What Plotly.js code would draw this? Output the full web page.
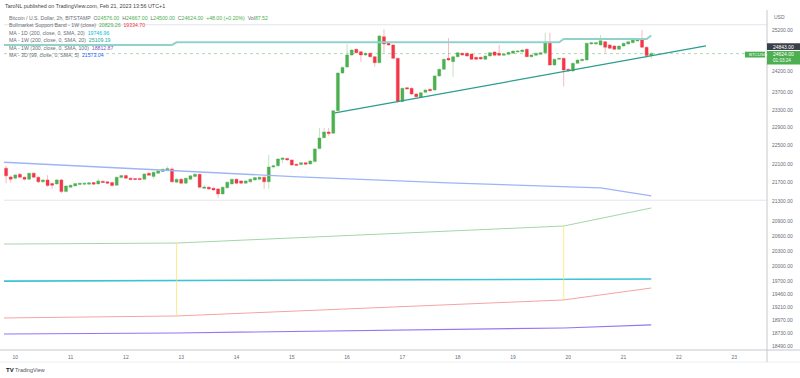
<!DOCTYPE html>
<html><head><meta charset="utf-8">
<script src="https://cdn.plot.ly/plotly-3.0.1.min.js"></script>
<style>html,body{margin:0;padding:0;background:#fff}#chart{width:800px;height:378px}</style>
</head><body><div id="chart"></div>
<script>
// ---- 2h candles, BTC/USD Bitstamp, first candle 2023-02-09 20:00 ----
const firstCandle = Date.UTC(2023, 1, 9, 20, 0);
const candleHours = 2;
const open = [22010,21823,21795,21880,21816,21774,21902,21816,21717,21759,
21682,21674,21759,21511,21604,21632,21660,21665,21668,21703,
21674,21731,21717,21703,21646,21809,21852,21795,21788,21790,
21774,21902,21830,21902,21937,21959,21995,21710,21773,21689,
21774,21830,21880,21580,21604,21582,21568,21463,21590,21674,
21773,21738,21689,21717,21759,21774,21816,21717,22037,22060,
22200,22220,22189,22095,22087,22130,22102,22152,22436,22678,
22806,22776,23286,24161,24303,24591,24728,24670,24591,24631,
24550,24405,25036,24873,24833,24510,23496,23817,23801,23669,
23593,23709,23778,23762,24091,24249,24510,24430,24550,24631,
24631,24614,24534,24534,24487,24567,24664,24631,24583,24606,
24631,24664,24670,24728,24550,24583,24606,24647,24890,24351,
24487,24510,24249,24209,24391,24454,24470,24857,24857,24833,
24914,24833,24808,24728,24808,24857,24890,24930,24972,24777,
24576];
const high = [22060,21850,21880,21905,21830,21915,21920,21830,21780,21860,
21700,21775,21780,21645,21660,21695,21700,21700,21710,21715,
21787,21745,21730,21715,21830,21870,21865,21810,21800,21805,
21900,21915,21935,21965,22000,22050,22030,21790,21790,21810,
21860,21895,21895,21640,21620,21600,21585,21620,21725,21790,
21790,21750,21750,21790,21825,21830,21830,22298,22090,22225,
22245,22235,22200,22110,22145,22145,22180,22445,22895,22895,
22895,23300,24180,24320,24850,24730,24745,24690,24650,24650,
24565,25077,25217,24890,24850,24530,23820,23835,23820,23690,
23720,23780,23795,24110,24265,24505,24998,24570,24665,24650,
24650,24630,24550,24550,24585,24665,24680,24833,24630,24670,
24700,24700,24728,24745,24608,24648,24665,25134,25134,24505,
24527,24527,24265,24408,24487,24505,24890,24910,24910,25077,
24930,24850,24825,24825,24890,24930,24972,24990,25200,24795,
24667];
const low = [21690,21700,21775,21800,21745,21755,21800,21690,21700,21610,
21570,21655,21477,21495,21590,21620,21645,21650,21655,21655,
21660,21690,21675,21620,21630,21795,21780,21750,21755,21750,
21760,21845,21780,21890,21925,21945,21700,21690,21670,21675,
21760,21815,21580,21560,21550,21530,21380,21445,21575,21660,
21670,21675,21675,21700,21745,21760,21568,21568,22000,22045,
22124,22170,22060,22055,22070,22080,22085,22135,22420,22660,
22720,22760,23270,24140,24285,24570,24630,24430,24570,24530,
24310,24390,24640,24815,24490,23458,23480,23770,23650,23590,
23575,23690,23730,23745,24070,24230,24450,24074,24530,24570,
24550,24470,24470,24478,24470,24550,24565,24565,24565,24590,
24615,24650,24655,24535,24535,24568,24590,24630,24335,24335,
24470,23840,24190,24190,24375,24438,24455,24840,24840,24815,
24640,24735,24710,24710,24790,24840,24875,24915,24760,24520,
24500];
const close = [21845,21774,21866,21816,21774,21902,21816,21717,21759,21638,
21646,21759,21511,21632,21646,21681,21690,21690,21696,21668,
21738,21703,21689,21638,21816,21852,21795,21766,21770,21766,
21887,21859,21923,21951,21988,22002,21717,21773,21689,21795,
21845,21880,21604,21610,21568,21547,21463,21604,21710,21773,
21689,21689,21738,21773,21809,21816,21717,22037,22060,22210,
22230,22189,22080,22073,22130,22095,22167,22430,22672,22806,
22768,23286,24161,24294,24591,24711,24646,24591,24631,24550,
24405,25053,24857,24833,24510,23496,23801,23786,23669,23607,
23700,23762,23746,24091,24249,24488,24470,24550,24647,24591,
24567,24487,24487,24494,24567,24647,24583,24583,24614,24655,
24686,24686,24711,24550,24591,24631,24647,24890,24351,24487,
24510,24232,24209,24391,24470,24487,24874,24890,24890,24938,
24777,24752,24728,24808,24874,24914,24955,24972,24777,24576,
24624];
const lastVolume = '87.52';

// ---- indicators (traced) ----
const bandTimes   = ['2023-02-09 19:00','2023-02-12 22:00','2023-02-19 22:00','2023-02-21 12:00'];
const bandGreen   = [20434, 20454, 20798, 21168];   // Bullmarket Support Band (upper)
const bandRed     = [19007, 19044, 19345, 19573];   // Bullmarket Support Band (lower)
const ma1w300     = [18711, 18729, 18821, 18877];
const weekMarks   = ['2023-02-12 22:00','2023-02-19 22:00'];
const ma1dTimes   = ['2023-02-09 19:00','2023-02-15 12:00','2023-02-21 12:00'];
const ma1d200     = [19705, 19725, 19747];
const ma1wTimes   = ['2023-02-09 19:00','2023-02-12 20:00','2023-02-12 22:00','2023-02-19 20:00','2023-02-19 22:00','2023-02-21 10:00','2023-02-21 12:00'];
const ma1w200     = [24833, 24833, 24899, 24899, 24980, 24980, 25065];
const ma3dTimes   = ['2023-02-09 19:00','2023-02-12 10:00','2023-02-15 03:00','2023-02-17 20:00','2023-02-20 14:00','2023-02-21 12:00'];
const ma3d99      = [22139, 21988, 21823, 21695, 21589, 21421];
const trendTimes  = ['2023-02-15 18:45','2023-02-22 11:45'];
const trendPrices = [23234, 24809];
const hLines      = [25330, 21330];

const legendValues = {band:['20829.26','19334.70'], ma1d:'19746.96', ma1w:'25109.19', ma1w300:'18812.87', ma3d:'21573.04'};
const xTickVals = ['2023-02-10','2023-02-11','2023-02-12','2023-02-13','2023-02-14','2023-02-15','2023-02-16','2023-02-17','2023-02-18','2023-02-19','2023-02-20','2023-02-21','2023-02-22','2023-02-23'];
const xTickText = ['10','11','12','13','14','15','16','17','18','19','20','21','22','23'];
const yTickVals = [25200,24200,23700,23300,22900,22500,22100,21700,21300,20900,20600,20300,20000,19700,19460,19210,18970,18730,18490];
const yTickText = yTickVals.map(v => v.toFixed(2));
const axisLabels = {trend:'24843.00', price:'24624.00', countdown:'01:03:24', symbol:'BTCUSD'};

// ---- layout geometry ----
const W = 800, H = 378, ML = 4, MR = 33, MT = 10, MB = 28;
const PW = W - ML - MR, PH = H - MT - MB;
const px2x = px => (px - ML) / PW;
const py2y = py => (H - MB - py) / PH;
const day0 = Date.UTC(2023, 1, 10), pxDay0 = 15.3, pxPerDay = 55.3;
const fmt = ms => new Date(ms).toISOString().slice(0, 19).replace('T', ' ');
const pxDate = px => fmt(day0 + (px - pxDay0) / pxPerDay * 86400000);
const pyPrice = py => 25200 * Math.exp(-(py - 30) / 1021);

const times = open.map((_, i) => fmt(firstCandle + i * candleHours * 3600000));
const bodyHigh = open.map((o, i) => Math.max(o, close[i]));
const bodyLow = open.map((o, i) => Math.min(o, close[i]));

const GREEN = '#4caf50', RED = '#f23645';
const traces = [
  {type:'scatter', mode:'lines', x:bandTimes, y:bandGreen, line:{color:'#a5d6a7', width:1}},
  {type:'scatter', mode:'lines', x:bandTimes, y:bandRed, line:{color:'#f5a3a3', width:1}},
  {type:'scatter', mode:'lines', x:bandTimes, y:ma1w300, line:{color:'#9575f5', width:1.2}},
  {type:'scatter', mode:'lines', x:ma1dTimes, y:ma1d200, line:{color:'#3cc3d6', width:1.6}},
  {type:'scatter', mode:'lines', x:ma1wTimes, y:ma1w200, line:{color:'#8fd3ca', width:2}},
  {type:'scatter', mode:'lines', x:ma3dTimes, y:ma3d99, line:{color:'#9fb4f7', width:1.3}},
  {type:'scatter', mode:'lines', x:trendTimes, y:trendPrices, line:{color:'#2a9d8f', width:1.3}}
];
weekMarks.forEach(t => {
  const i = bandTimes.indexOf(t);
  traces.push({type:'scatter', mode:'lines', x:[t, t], y:[bandGreen[i], bandRed[i]], line:{color:'rgba(255,225,90,0.7)', width:1}});
});
traces.push({type:'candlestick', x:times, open, high, low, close,
  increasing:{line:{color:'rgba(76,175,80,0.35)', width:1}, fillcolor:'rgba(0,0,0,0)'},
  decreasing:{line:{color:'rgba(242,54,69,0.35)', width:1}, fillcolor:'rgba(0,0,0,0)'},
  whiskerwidth:0, hoverinfo:'skip'});
traces.push({type:'candlestick', x:times, open, high:bodyHigh, low:bodyLow, close,
  increasing:{line:{color:GREEN, width:0}, fillcolor:GREEN},
  decreasing:{line:{color:RED, width:0}, fillcolor:RED},
  whiskerwidth:0, hoverinfo:'skip'});

const n = close.length - 1;
const chg = close[n] - close[n - 1];
const g = s => '<span style="color:' + GREEN + '">' + s + '</span>';
const lbl = '#6a6d78';
const ann = (px, py, text, extra) => Object.assign({xref:'paper', yref:'paper', x:px2x(px), y:py2y(py), xanchor:'left', yanchor:'middle', showarrow:false, text, font:{size:5.2, color:lbl}}, extra || {});

const annotations = [
  ann(3, 5.5, 'TaroNL published on TradingView.com, Feb 21, 2023 13:56 UTC+1', {font:{size:5.4, color:'#444'}}),
  ann(7, 17.7, 'Bitcoin / U.S. Dollar, 2h, BITSTAMP  O' + g(open[n].toFixed(2)) + '  H' + g(high[n].toFixed(2)) + '  L' + g(low[n].toFixed(2)) + '  C' + g(close[n].toFixed(2)) + '  ' + g((chg >= 0 ? '+' : '') + chg.toFixed(2) + ' (+' + (chg / close[n - 1] * 100).toFixed(2) + '%)') + '  Vol' + g(lastVolume)),
  ann(7, 25, 'Bullmarket Support Band - 1W (close)  ' + g(legendValues.band[0]) + '  <span style="color:' + RED + '">' + legendValues.band[1] + '</span>'),
  ann(7, 33, 'MA - 1D (200, close, 0, SMA, 20)  <span style="color:#00bcd4">' + legendValues.ma1d + '</span>'),
  ann(7, 40.3, 'MA - 1W (200, close, 0, SMA, 20)  <span style="color:#26a69a">' + legendValues.ma1w + '</span>'),
  ann(7, 47.7, 'MA - 1W (300, close, 0, SMA, 100)  <span style="color:#7e57c2">' + legendValues.ma1w300 + '</span>'),
  ann(7, 55, 'MA - 3D (99, close, 0, SMA, 5)  <span style="color:#2962ff">' + legendValues.ma3d + '</span>'),
  ann(772, 17, 'USD', {font:{size:5, color:lbl}}),
  ann(771, 46.7, axisLabels.trend, {font:{size:5, color:'#fff'}}),
  ann(771, 54.3, axisLabels.price, {font:{size:5, color:'#fff'}}),
  ann(771, 60.8, axisLabels.countdown, {font:{size:4.6, color:'#fff'}}),
  ann(746.5, 54.6, axisLabels.symbol, {font:{size:4.4, color:'#fff'}}),
  ann(4, 370, '<b>TV</b>', {font:{size:6, color:'#131722'}}),
  ann(12.5, 370, 'TradingView', {font:{size:5.4, color:'#555'}})
];

const rect = (x0, y0, x1, y1, color) => ({type:'rect', xref:'paper', yref:'paper', x0:px2x(x0), x1:px2x(x1), y0:py2y(y1), y1:py2y(y0), fillcolor:color, line:{width:0}, layer:'above'});
const pline = (x0, y0, x1, y1, color) => ({type:'line', xref:'paper', yref:'paper', x0:px2x(x0), x1:px2x(x1), y0:py2y(y0), y1:py2y(y1), line:{color, width:1}});
const shapes = [
  ...hLines.map(v => ({type:'line', xref:'paper', yref:'y', x0:0, x1:1, y0:v, y1:v, line:{color:'#e3e5ea', width:1}, layer:'below'})),
  {type:'line', xref:'paper', yref:'y', x0:0, x1:1, y0:close[n], y1:close[n], line:{color:'rgba(76,175,80,0.45)', width:1, dash:'dot'}, layer:'below'},
  pline(0, 350, 800, 350, '#c5c8d0'),
  pline(0, 362, 800, 362, '#eceef2'),
  pline(767, 10, 767, 362, '#c5c8d0'),
  rect(767, 43.3, 800, 50, '#3b3f4a'),
  rect(767, 51, 800, 64.5, GREEN),
  rect(745, 51.7, 765, 57.5, GREEN)
];

const layout = {
  width:W, height:H, margin:{l:ML, r:MR, t:MT, b:MB, pad:0},
  paper_bgcolor:'#fff', plot_bgcolor:'#fff', showlegend:false, hovermode:false,
  boxgap:0.35, boxgroupgap:0,
  font:{family:'"Liberation Sans", Arial, sans-serif', size:5, color:lbl},
  xaxis:{type:'date', range:[pxDate(ML), pxDate(W - MR)], tickvals:xTickVals, ticktext:xTickText, tickmode:'array',
    showgrid:false, zeroline:false, showline:false, ticks:'', ticklabelstandoff:3, tickfont:{size:5, color:lbl}, rangeslider:{visible:false}, fixedrange:true},
  yaxis:{type:'log', side:'right', range:[Math.log10(pyPrice(H - MB)), Math.log10(pyPrice(MT))], tickvals:yTickVals, ticktext:yTickText, tickmode:'array',
    showgrid:false, zeroline:false, showline:false, ticks:'', ticklabelstandoff:4, tickfont:{size:5, color:lbl}, fixedrange:true},
  shapes, annotations
};
Plotly.newPlot('chart', traces, layout, {staticPlot:true, displayModeBar:false});
</script></body></html>
